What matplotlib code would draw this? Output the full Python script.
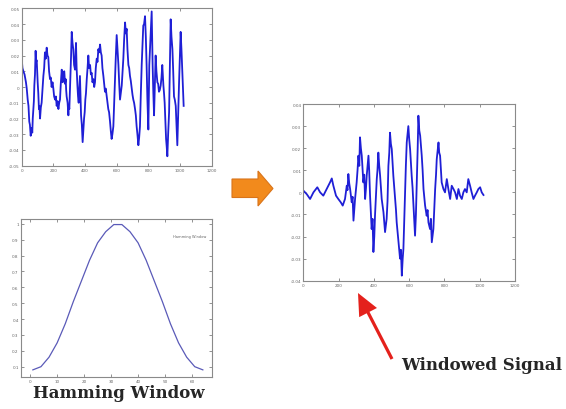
import numpy as np
import matplotlib
matplotlib.use("Agg")
from matplotlib import pyplot as plt
from matplotlib.patches import FancyArrow, Polygon

# original signal (sample index, value in 1e-3)
sig_x = [0, 5, 11, 18, 27, 32, 38, 43, 48, 52, 57, 62, 67, 70, 74, 77, 80, 84, 88, 91,
         95, 98, 101, 105, 109, 112, 116, 121, 126, 131, 137, 142, 147, 152, 158, 163,
         168, 173, 179, 184, 189, 195, 200, 205, 211, 216, 221, 226, 232, 237, 242, 247,
         253, 256, 259, 264, 269, 274, 278, 281, 284, 290, 295, 298, 301, 305, 309, 312,
         316, 321, 326, 331, 337, 340, 343, 347, 352, 356, 360, 364, 368, 371, 375, 380,
         385, 390, 394, 398, 402, 406, 411, 416, 421, 426, 432, 437, 442, 447, 453, 458,
         463, 468, 474, 479, 484, 489, 495, 500, 505, 510, 516, 521, 526, 531, 537, 542,
         547, 552, 558, 563, 568, 573, 579, 584, 589, 594, 600, 605, 611, 616, 621, 626,
         632, 637, 642, 647, 653, 658, 663, 668, 674, 679, 684, 689, 695, 700, 705, 710,
         716, 721, 726, 731, 737, 742, 747, 752, 758, 763, 768, 773, 779, 784, 789, 794,
         800, 803, 806, 813, 821, 824, 827, 831, 836, 841, 846, 851, 857, 862, 867, 872,
         878, 883, 888, 891, 895, 899, 903, 907, 912, 916, 920, 925, 931, 936, 941, 946,
         952, 957, 962, 967, 973, 978, 983, 988, 994, 999, 1004, 1009, 1015, 1019, 1023]
sig_y = [18, 12, 10, 8, 3, -1, -8, -12, -22, -24, -31, -26, -29, -20, -14, -9, 1, 8, 23, 16,
         17, 10, 3, -4, -14, -12, -20, -13, -10, -2, 7, 12, 22, 18, 25, 20,
         19, 10, 5, 6, 0, 3, -1, -6, -8, -6, -12, -9, -14, -10, -8, 2,
         11, 6, 3, 9, 10, 2, 5, -2, -6, -10, -18, -12, -14, -2, 9, 20,
         35, 28, 24, 14, 11, 20, 28, 12, 1, -6, -10, -2, 7, -4, -18, -24,
         -35, -26, -20, -16, -8, -4, 5, 12, 20, 12, 14, 8, 9, 3, 5, 0,
         3, 12, 18, 16, 24, 22, 27, 22, 20, 12, 7, 2, -3, -1, -6, -10,
         -14, -16, -22, -28, -33, -30, -25, -10, 3, 18, 33, 24, 14, 2, -8, -4,
         1, 10, 18, 30, 41, 34, 37, 24, 14, 12, 7, 4, -1, -5, -8, -10,
         -14, -18, -25, -30, -37, -32, -25, -6, 14, 26, 39, 40, 45, 32, 14, -8,
         -27, -6, 14, 30, 48, 30, 14, -2, -18, 2, 20, 10, 3, 2, -3, -2,
         1, 6, 14, 8, 1, -4, -10, -20, -33, -38, -44, -30, -16, 12, 43, 32,
         24, 10, -6, -8, -12, -24, -37, -18, 3, 20, 35, 24, 9, -2, -12]

# Hamming window (64 points)
win_x = [1, 4, 7, 10, 13, 16, 19, 22, 25, 28, 31, 34, 37, 40, 43, 46, 49, 52, 55, 58, 61, 64]
win_y = [0.08, 0.10, 0.16, 0.25, 0.37, 0.51, 0.64, 0.77, 0.88, 0.95, 0.995,
         0.995, 0.95, 0.88, 0.77, 0.64, 0.51, 0.37, 0.25, 0.16, 0.10, 0.08]

# windowed signal (sample index, value in 1e-3)
wsig_x = [0, 19, 38, 57, 79, 95, 113, 132, 151, 161, 170, 185, 198, 212, 223, 236, 246,
          250, 255, 260, 265, 274, 279, 284, 293, 302, 307, 312, 317, 321, 326, 331, 340,
          345, 350, 355, 359, 369, 373, 378, 387, 392, 397, 402, 406, 416, 420, 425, 430,
          435, 444, 449, 454, 463, 472, 477, 482, 487, 491, 496, 501, 510, 520, 525, 529,
          534, 539, 548, 553, 558, 563, 567, 577, 581, 586, 595, 600, 605, 614, 619, 624,
          633, 638, 643, 648, 652, 657, 662, 671, 676, 681, 690, 699, 704, 709, 718, 723,
          728, 737, 747, 752, 756, 766, 770, 775, 784, 794, 803, 813, 822, 832, 841, 851,
          860, 870, 879, 888, 898, 907, 916, 926, 935, 945, 954, 964, 973, 983, 992, 1002,
          1011, 1021]
wsig_y = [0.8, -0.8, -3, 0, 2.3, 0, -1.5, 1.5, 4.5, 6.3, 3, -1.5, -3, -4.5, -6, -3, 3,
          1, 8.3, 4, 1.5, -4.5, -2, -12.8, -3, 4.5, 10, 16.6, 12, 24.9, 20, 16.6, 4.5,
          8, -3, 2, 7.5, 16.6, 10, -1.5, -16.6, -12, -27, -20, -10.6, 6, 10, 18, 12,
          7.5, -3, -6, -9, -18, -12, -4, 12, 18, 27, 22, 19.6, 7.5, -3, -8, -13.6,
          -18, -22.6, -30, -26, -37.7, -30, -25.7, 1.5, 12, 22.6, 30, 24, 19.6, 7.5, 2, -6,
          -19.6, -10, 4.5, 20, 34.7, 28, 25.7, 16.6, 10, 1.5, -6, -10.6, -8, -13.6, -16.6, -12,
          -22.6, -16.6, 1.5, 8, 15, 22.6, 18, 16.6, 4.5, 1.5, 0, 6, 1.5, -3, 3, 1.5,
          0, -3, 1.5, -1.5, -3, 0, 1.5, 0, 6, 3, 0, -3, -1.5, 0, 1.5, 2.3,
          0, -1.2]

blue = '#1f1fd6'
spine = '#8a8a8a'


def matlab_axes(ax):
    for s in ax.spines.values():
        s.set_color(spine)
        s.set_linewidth(0.8)
    ax.tick_params(direction='in', length=2, width=0.5, top=True, right=True,
                   labelsize=3, colors='#666666', pad=1.5)


fig = plt.figure(figsize=(5.66, 4.10), dpi=100)

ax1 = fig.add_axes([0.0383, 0.5934, 0.3357, 0.3839])
ax1.plot(sig_x, np.array(sig_y) * 1e-3, color=blue, lw=1.3)
ax1.set_xlim(0, 1200)
ax1.set_ylim(-0.05, 0.05)
ax1.set_xticks(np.arange(0, 1201, 200))
ax1.set_yticks(np.round(np.arange(-0.05, 0.051, 0.01), 2))
ax1.yaxis.set_major_formatter(matplotlib.ticker.FormatStrFormatter('%g'))
matlab_axes(ax1)

ax2 = fig.add_axes([0.0366, 0.0788, 0.3375, 0.3846])
ax2.plot(win_x, win_y, color='#5a5ab8', lw=0.9)
ax2.set_xlim(-3.5, 67.3)
ax2.set_ylim(0.037, 1.03)
ax2.set_xticks(np.arange(0, 61, 10))
ax2.set_yticks(np.round(np.arange(0.1, 1.01, 0.1), 1))
ax2.yaxis.set_major_formatter(matplotlib.ticker.FormatStrFormatter('%g'))
ax2.text(0.97, 0.895, 'Hamming Window', transform=ax2.transAxes, ha='right',
         va='center', fontsize=2.6, color='#666666')
matlab_axes(ax2)

ax3 = fig.add_axes([0.536, 0.3129, 0.374, 0.431])
ax3.plot(wsig_x, np.array(wsig_y) * 1e-3, color=blue, lw=1.3)
ax3.set_xlim(0, 1200)
ax3.set_ylim(-0.04, 0.04)
ax3.set_xticks(np.arange(0, 1201, 200))
ax3.set_yticks(np.round(np.arange(-0.04, 0.041, 0.01), 2))
ax3.yaxis.set_major_formatter(matplotlib.ticker.FormatStrFormatter('%g'))
matlab_axes(ax3)

# overlay in pixel units for arrows and captions
ov = fig.add_axes([0, 0, 1, 1])
ov.set_xlim(0, 566)
ov.set_ylim(410, 0)
ov.axis('off')
ov.patch.set_alpha(0)

ov.add_patch(Polygon([[232, 180], [258, 180], [258, 172], [273, 189.5], [258, 207],
                      [258, 198.5], [232, 198.5]], closed=True,
                     facecolor='#f28a1c', edgecolor='#d9741a', lw=0.8))
ov.add_patch(FancyArrow(392, 360, -34, -66, width=3.2, head_width=20, head_length=22,
                        length_includes_head=True, color='#e4211c', lw=0))

ov.text(482, 366, 'Windowed Signal', ha='center', va='center', fontsize=12,
        fontweight='bold', family='DejaVu Serif', color='#262626')
ov.text(119, 394, 'Hamming Window', ha='center', va='center', fontsize=12,
        fontweight='bold', family='DejaVu Serif', color='#262626')

fig.savefig('out.png', dpi=100)
